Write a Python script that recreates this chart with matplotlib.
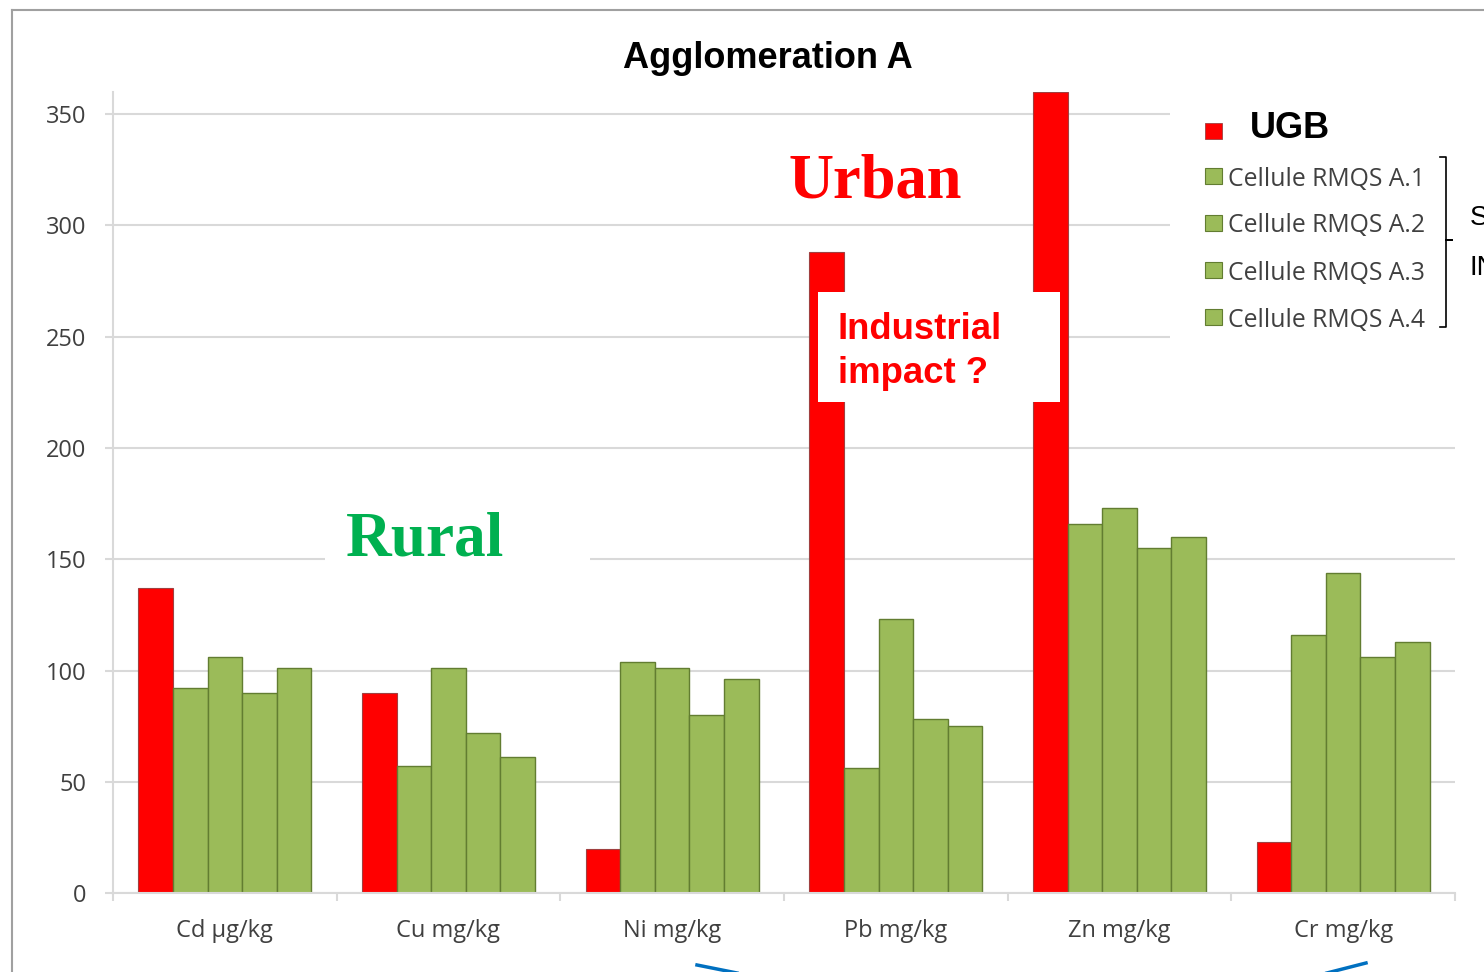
import numpy as np
import matplotlib
matplotlib.use('Agg')
import matplotlib.pyplot as plt
from matplotlib.patches import Rectangle
from matplotlib.lines import Line2D

W, H = 1484, 972

categories = ['Cd µg/kg', 'Cu mg/kg', 'Ni mg/kg', 'Pb mg/kg', 'Zn mg/kg', 'Cr mg/kg']
series_names = ['UGB', 'Cellule RMQS A.1', 'Cellule RMQS A.2', 'Cellule RMQS A.3', 'Cellule RMQS A.4']
ugb = [137, 90, 20, 288, 360, 23]
rmqs_a1 = [92, 57, 104, 56, 166, 116]
rmqs_a2 = [106, 101, 101, 123, 173, 144]
rmqs_a3 = [90, 72, 80, 78, 155, 106]
rmqs_a4 = [101, 61, 96, 75, 160, 113]
yticks = [0, 50, 100, 150, 200, 250, 300, 350]

RED = '#ff0000'
GREEN = '#9bbb59'
GREY_TXT = '#404040'
GRID = '#d9d9d9'


def px(x, y):
    # pixel position in the picture -> figure fraction
    return x / W, 1 - y / H


def box(x0, y0, x1, y1, **kw):
    r = Rectangle(px(x0, y1), (x1 - x0) / W, (y1 - y0) / H,
                  transform=fig.transFigure, **kw)
    fig.add_artist(r)
    return r


fig = plt.figure(figsize=(W / 100, H / 100), dpi=100)
ax = fig.add_axes([113 / W, 1 - 893 / H, (1455 - 113) / W, (893 - 92) / H])

x = np.arange(len(categories))
w = 0.1545
all_series = [ugb, rmqs_a1, rmqs_a2, rmqs_a3, rmqs_a4]
for j, vals in enumerate(all_series):
    if j == 0:
        ax.bar(x + (j - 2) * w, vals, w, color=RED, edgecolor='#a04040', linewidth=0.8)
    else:
        ax.bar(x + (j - 2) * w, vals, w, color=GREEN, edgecolor='#627d31', linewidth=1.0)

ax.set_xlim(-0.5, len(categories) - 0.5)
ax.set_ylim(0, 360)
ax.set_yticks(yticks)
ax.set_xticks(x)
ax.set_xticks(np.arange(len(categories) + 1) - 0.5, minor=True)
ax.set_xticklabels(categories)
ax.tick_params(axis='x', which='major', length=0, pad=19, labelsize=17, labelcolor=GREY_TXT)
ax.tick_params(axis='x', which='minor', length=6, color=GRID, width=1.5)
ax.tick_params(axis='y', length=6, color=GRID, width=1.5, pad=13, labelsize=17, labelcolor=GREY_TXT)
for lab in ax.get_xticklabels() + ax.get_yticklabels():
    lab.set_family('Open Sans')

ax.set_axisbelow(True)
ax.yaxis.grid(True, color=GRID, linewidth=1.5)
for side in ['top', 'right']:
    ax.spines[side].set_visible(False)
for side in ['left', 'bottom']:
    ax.spines[side].set_color(GRID)
    ax.spines[side].set_linewidth(1.5)

# slide frame
fig.add_artist(Line2D([12 / W, 12 / W], [0, 1 - 10 / H], transform=fig.transFigure, color='#a0a0a0', lw=1.5))
fig.add_artist(Line2D([12 / W, 1], [1 - 10 / H, 1 - 10 / H], transform=fig.transFigure, color='#a0a0a0', lw=1.5))

# title
fig.text(*px(768, 68), 'Agglomeration A', ha='center', va='baseline',
         fontsize=26, fontweight='bold', family='Liberation Sans')

# legend (white panel over the grid)
box(1170, 88, 1484, 345, facecolor='white', edgecolor='none', zorder=1)
box(1205, 123, 1222, 139, facecolor=RED, edgecolor='#a04040', lw=0.6, zorder=2)
fig.text(*px(1250, 138), series_names[0], ha='left', va='baseline',
         fontsize=26, fontweight='bold', family='Liberation Sans', zorder=3)
for k, name in enumerate(series_names[1:]):
    yc = 176 + 47 * k
    box(1205, yc - 8, 1222, yc + 8, facecolor=GREEN, edgecolor='#627d31', lw=0.8, zorder=2)
    fig.text(*px(1228, yc + 3), name, ha='left', va='center', fontsize=17.8,
             color=GREY_TXT, family='Open Sans', zorder=3)

# bracket and slide text cut off at the right edge (as in the source slide)
bracket = [(1440, 157), (1446, 157), (1446, 240), (1452, 240), (1446, 240), (1446, 327), (1440, 327)]
bx, by = zip(*[px(a, b) for a, b in bracket])
fig.add_artist(Line2D(bx, by, transform=fig.transFigure, color='black', lw=1.2))
fig.text(*px(1470, 218), 'S', ha='left', va='center', fontsize=20, family='Liberation Sans')
fig.text(*px(1470, 268), 'IN', ha='left', va='center', fontsize=20, family='Liberation Sans')

# annotations
fig.text(*px(789, 197), 'Urban', ha='left', va='baseline', fontsize=45, fontweight='bold',
         color=RED, family='Liberation Serif', zorder=3)
box(325, 503, 590, 566, facecolor='white', edgecolor='none', zorder=1)
fig.text(*px(346, 556), 'Rural', ha='left', va='baseline', fontsize=45.5, fontweight='bold',
         color='#00b050', family='Liberation Serif', zorder=3)
box(818, 292, 1060, 402, facecolor='white', edgecolor='none', zorder=1)
fig.text(*px(838, 339), 'Industrial', ha='left', va='baseline', fontsize=26.3, fontweight='bold',
         color=RED, family='Liberation Sans', zorder=3)
fig.text(*px(838, 383), 'impact ?', ha='left', va='baseline', fontsize=26.3, fontweight='bold',
         color=RED, family='Liberation Sans', zorder=3)

# arrow stubs from the slide below
for pts in [[(697, 965), (742, 974)], [(1323, 974), (1366, 963)]]:
    lx, ly = zip(*[px(a, b) for a, b in pts])
    fig.add_artist(Line2D(lx, ly, transform=fig.transFigure, color='#0070c0', lw=2.5))

fig.savefig('out.png', dpi=100)
